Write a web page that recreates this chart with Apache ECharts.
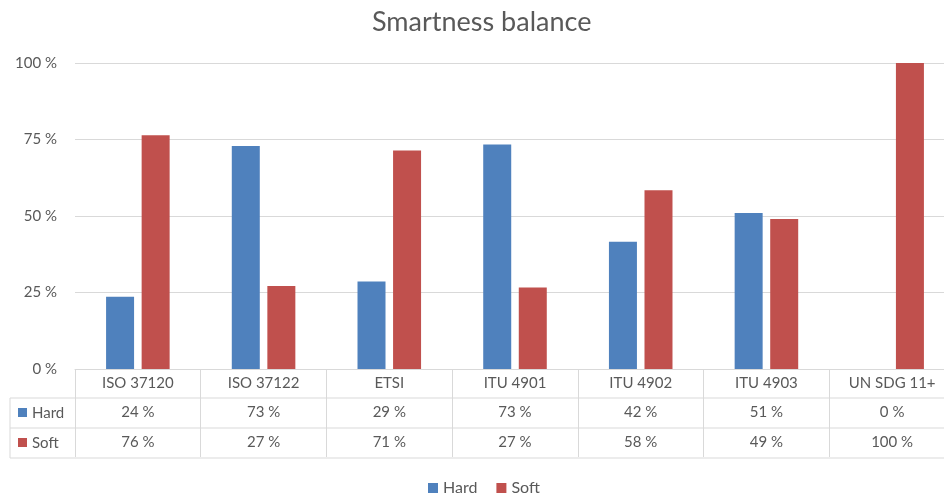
<!DOCTYPE html>
<html>
<head>
<meta charset="utf-8">
<script src="https://cdn.jsdelivr.net/npm/echarts@6/dist/echarts.min.js"></script>
<style>html,body{margin:0;padding:0;background:#fff}#c{width:944px;height:496px}</style>
</head>
<body>
<div id="c"></div>
<script>
const categories = ['ISO 37120', 'ISO 37122', 'ETSI', 'ITU 4901', 'ITU 4902', 'ITU 4903', 'UN SDG 11+'];
const hard = [23.6, 72.9, 28.6, 73.4, 41.6, 51.0, 0];
const soft = [76.4, 27.1, 71.4, 26.6, 58.4, 49.0, 100];
const yTicks = [0, 25, 50, 75, 100];

const FONT = 'Lato';
const TXT = '#595959';
const LINE = '#d9d9d9';
const BLUE = '#4F81BD';
const RED = '#C0504D';

const chart = echarts.init(document.getElementById('c'), null, {renderer: 'canvas'});

const tableLabel = function (value, idx) {
  return '{c|' + value + '}\n{v|' + Math.round(hard[idx]) + ' %}\n{v|' + Math.round(soft[idx]) + ' %}';
};

chart.setOption({
  animation: false,
  backgroundColor: '#fff',
  textStyle: {fontFamily: FONT},
  title: {
    text: 'Smartness balance',
    left: 367,
    top: 4,
    textStyle: {fontFamily: FONT, fontSize: 27, fontWeight: 'normal', color: TXT}
  },
  legend: {
    top: 475,
    left: 423,
    itemWidth: 10,
    itemHeight: 10,
    itemGap: 19,
    icon: 'rect',
    textStyle: {fontFamily: FONT, fontSize: 16, color: TXT},
    data: ['Hard', 'Soft']
  },
  grid: {left: 75, top: 63, width: 880, height: 306, containLabel: false, outerBoundsMode: 'none'},
  xAxis: {
    type: 'category',
    data: categories,
    axisLine: {show: true, lineStyle: {color: LINE, width: 1}},
    axisTick: {show: true, interval: 0, length: 88, alignWithLabel: false, lineStyle: {color: LINE, width: 1}},
    axisLabel: {
      interval: 0,
      margin: 0,
      hideOverlap: false,
      formatter: tableLabel,
      color: TXT,
      rich: {
        c: {fontFamily: FONT, fontSize: 15, color: TXT, lineHeight: 28, align: 'center'},
        v: {fontFamily: FONT, fontSize: 15, color: TXT, lineHeight: 30, align: 'center'}
      }
    }
  },
  yAxis: {
    type: 'value',
    min: yTicks[0],
    max: yTicks[yTicks.length - 1],
    interval: yTicks[1] - yTicks[0],
    axisLine: {show: false},
    axisTick: {show: false},
    axisLabel: {margin: 18, fontFamily: FONT, fontSize: 15, color: TXT, formatter: '{value} %'},
    splitLine: {lineStyle: {color: LINE, width: 1}}
  },
  series: [
    {name: 'Hard', type: 'bar', data: hard, barWidth: 28, barGap: '27%', itemStyle: {color: BLUE}},
    {name: 'Soft', type: 'bar', data: soft, barWidth: 28, barGap: '27%', itemStyle: {color: RED}}
  ],
  graphic: [
    {type: 'line', shape: {x1: 10, y1: 398, x2: 944, y2: 398}, style: {stroke: LINE, lineWidth: 1}},
    {type: 'line', shape: {x1: 10, y1: 428, x2: 944, y2: 428}, style: {stroke: LINE, lineWidth: 1}},
    {type: 'line', shape: {x1: 10, y1: 458, x2: 944, y2: 458}, style: {stroke: LINE, lineWidth: 1}},
    {type: 'line', shape: {x1: 10, y1: 398, x2: 10, y2: 458}, style: {stroke: LINE, lineWidth: 1}},
    {type: 'rect', shape: {x: 18, y: 408, width: 9, height: 9}, style: {fill: BLUE}},
    {type: 'text', x: 32, y: 413, style: {text: 'Hard', font: '15px ' + FONT, fill: TXT, textVerticalAlign: 'middle', verticalAlign: 'middle'}},
    {type: 'rect', shape: {x: 18, y: 438, width: 9, height: 9}, style: {fill: RED}},
    {type: 'text', x: 32, y: 443, style: {text: 'Soft', font: '15px ' + FONT, fill: TXT, textVerticalAlign: 'middle', verticalAlign: 'middle'}}
  ]
});
</script>
</body>
</html>
